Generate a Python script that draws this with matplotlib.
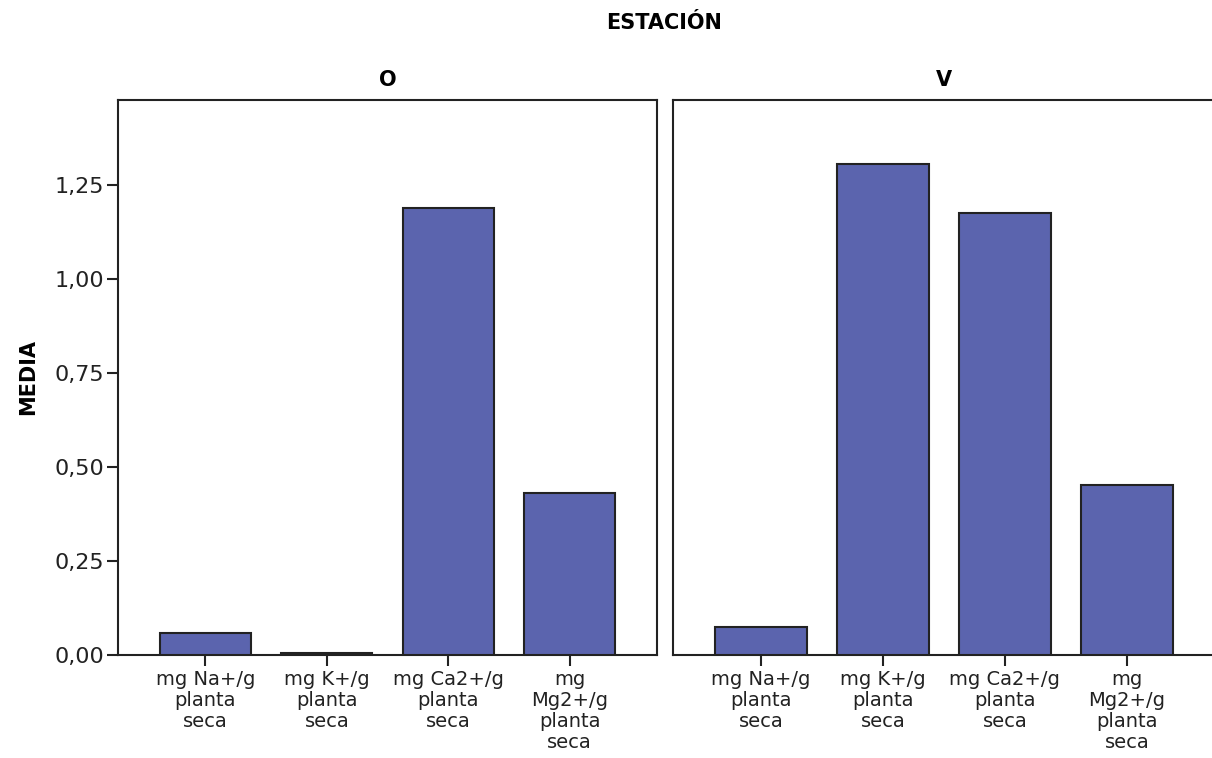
import matplotlib
matplotlib.use('Agg')
import matplotlib.pyplot as plt
from matplotlib.ticker import FixedLocator, FuncFormatter

categories = ['mg Na+/g\nplanta\nseca', 'mg K+/g\nplanta\nseca',
              'mg Ca2+/g\nplanta\nseca', 'mg\nMg2+/g\nplanta\nseca']
estaciones = ['O', 'V']
medias = {
    'O': [0.058, 0.005, 1.189, 0.431],
    'V': [0.075, 1.306, 1.176, 0.452],
}
yticks = [0.0, 0.25, 0.5, 0.75, 1.0, 1.25]

bar_color = '#5b64ae'
plt.rcParams['font.family'] = ['DejaVu Sans']

fig = plt.figure(figsize=(12.12, 7.58), dpi=100)
ax_o = fig.add_axes([0.0974, 0.1359, 0.4447, 0.7322])
ax_v = fig.add_axes([0.5553, 0.1359, 0.4470, 0.7322], sharey=ax_o)

x = list(range(len(categories)))
for ax, est in zip([ax_o, ax_v], estaciones):
    ax.bar(x, medias[est], width=0.75, color=bar_color,
           edgecolor='#222222', linewidth=1.5, zorder=3)
    ax.set_xlim(-0.72, 3.72)
    ax.set_ylim(0, 1.476)
    ax.set_xticks(x)
    ax.set_xticklabels(categories, fontsize=14, linespacing=1.12,
                       color='#222222')
    ax.tick_params(axis='x', direction='out', length=8, width=1.5,
                   colors='#222222', pad=3)
    for sp in ax.spines.values():
        sp.set_linewidth(1.5)
        sp.set_color('#222222')
    ax.set_title(est, fontsize=15, fontweight='bold', pad=10)

ax_o.yaxis.set_major_locator(FixedLocator(yticks))
ax_o.yaxis.set_major_formatter(FuncFormatter(lambda v, p: f'{v:.2f}'.replace('.', ',')))
ax_o.tick_params(axis='y', direction='out', length=8, width=1.5,
                 labelsize=16, colors='#222222', pad=2)
ax_o.set_ylabel('MEDIA', fontsize=15, fontweight='bold', labelpad=12)

ax_v.tick_params(axis='y', left=False, labelleft=False)
ax_v.spines['right'].set_visible(False)

fig.text(0.548, 0.97, 'ESTACIÓN', ha='center', va='center',
         fontsize=15, fontweight='bold')

fig.savefig('out.png', dpi=100)
